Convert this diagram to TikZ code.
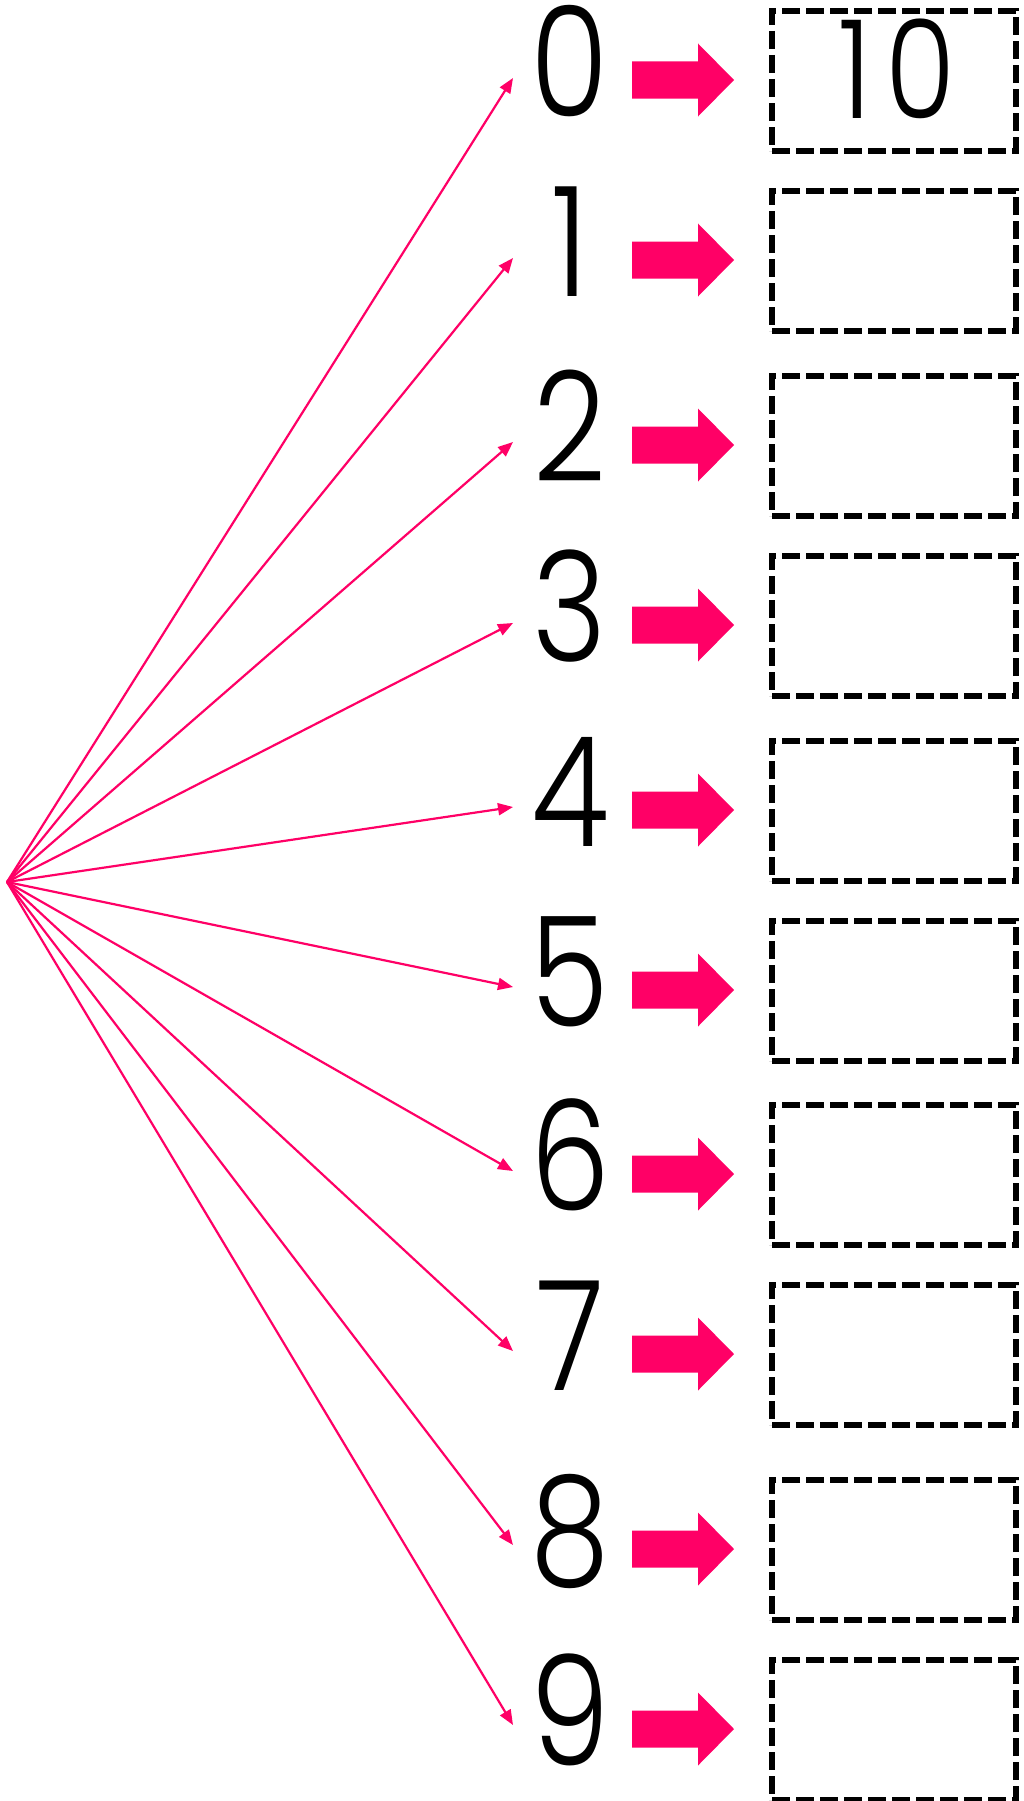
\documentclass[tikz,border=0pt]{standalone}
\usepackage{fontspec}
\newfontfamily\digitfont{Poppins Light}[FakeStretch=0.83]
\usetikzlibrary{arrows.meta}
\definecolor{pinkc}{HTML}{FF0066}
\begin{document}
\begin{tikzpicture}[x=1pt,y=-1pt,
  digit/.style={inner sep=0pt, anchor=base, font=\digitfont\fontsize{153}{160}\selectfont},
  answertext/.style={inner sep=0pt, anchor=base, font=\digitfont\fontsize{137}{140}\selectfont},
  answerbox/.style={draw=black, line width=6pt, dash pattern=on 18pt off 6pt, minimum width=244pt, minimum height=140pt, inner sep=0pt},
  fanline/.style={draw=pinkc, line width=2.2pt, -{Triangle[length=15pt,width=12pt]}},
  blockarrow/.style={fill=pinkc}
]
\useasboundingbox (0,0) rectangle (1023,1801);
\fill[white] (0,0) rectangle (1023,1801);
\coordinate (O) at (7,882);
\foreach \d/\c/\t in {0/80/78, 1/260/258, 2/445/442, 3/625/623, 4/810/807, 5/990/987, 6/1174/1171, 7/1354/1351, 8/1549/1545, 9/1729/1725} {
  \node[digit] (d\d) at (570,\c+36) {\d};
  \node[answerbox] (b\d) at (894,\c+1) {};
  \coordinate (t\d) at (513,\t);
  \draw[fanline] (O) -- (t\d);
  \fill[blockarrow] (632,\c-18.5) -- (698,\c-18.5) -- (698,\c-36.5) -- (734,\c) -- (698,\c+36.5) -- (698,\c+18.5) -- (632,\c+18.5) -- cycle;
}
\node[answertext] (ten) at (897,118) {1\hspace{13pt}0};
\end{tikzpicture}
\end{document}
